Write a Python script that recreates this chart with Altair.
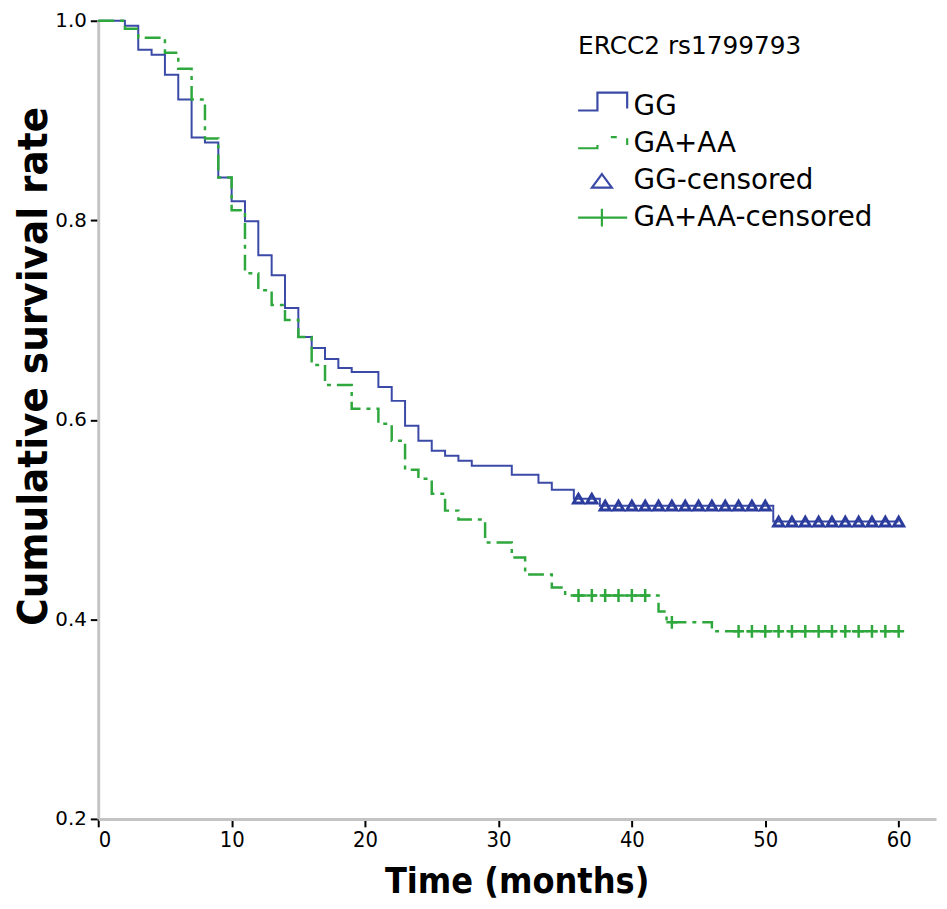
import altair as alt
import pandas as pd

BLUE = "#3a4aa6"
BLUE_MARK = "#2b3c9c"
GREEN = "#2ea83c"

NARROW = "Liberation Sans Narrow, DejaVu Sans Condensed, Arial Narrow, sans-serif"

# GG Kaplan-Meier steps (time in months, cumulative survival)
gg_time = [0, 2, 3, 4, 5, 6, 7, 8, 9, 10, 11, 12, 13, 14, 15, 16, 17, 18, 19, 21,
           22, 23, 24, 25, 26, 27, 28, 31, 33, 34, 35.65, 37.6, 50.6, 60]
gg_surv = [1.0, 0.995, 0.971, 0.966, 0.946, 0.921, 0.883, 0.878, 0.843, 0.819, 0.799,
           0.765, 0.745, 0.712, 0.683, 0.672, 0.661, 0.652, 0.648, 0.633, 0.619, 0.594,
           0.579, 0.569, 0.564, 0.559, 0.554, 0.545, 0.537, 0.530, 0.521, 0.514, 0.498, 0.498]

# GA+AA Kaplan-Meier steps
ga_time = [0, 2, 3, 5, 6, 7, 8, 9, 10, 11, 12, 13, 14, 15, 16, 17, 19, 21, 22, 23, 24,
           25, 26, 27, 29, 31, 32, 34, 35, 42, 42.6, 46, 60]
ga_surv = [1.0, 0.992, 0.983, 0.968, 0.952, 0.921, 0.882, 0.843, 0.810, 0.747, 0.730,
           0.715, 0.700, 0.683, 0.655, 0.635, 0.611, 0.596, 0.579, 0.550, 0.541, 0.526,
           0.509, 0.500, 0.477, 0.462, 0.445, 0.432, 0.424, 0.408, 0.397, 0.388, 0.388]

# censored observations
gg_cens_time = [36, 37, 38, 39, 40, 41, 42, 43, 44, 45, 46, 47, 48, 49, 50,
                51, 52, 53, 54, 55, 56, 57, 58, 59, 60]
gg_cens_surv = [0.521, 0.521, 0.514, 0.514, 0.514, 0.514, 0.514, 0.514, 0.514, 0.514,
                0.514, 0.514, 0.514, 0.514, 0.514, 0.498, 0.498, 0.498, 0.498, 0.498,
                0.498, 0.498, 0.498, 0.498, 0.498]
ga_cens_time = [36, 37, 38, 39, 40, 41, 43, 48, 49, 50, 51, 52, 53, 54, 55, 56, 57, 58, 59, 60]
ga_cens_surv = [0.424, 0.424, 0.424, 0.424, 0.424, 0.424, 0.397, 0.388, 0.388, 0.388,
                0.388, 0.388, 0.388, 0.388, 0.388, 0.388, 0.388, 0.388, 0.388, 0.388]

legend_keys = ["GG", "GA+AA", "GG-censored", "GA+AA-censored"]
legend_colors = [BLUE, GREEN, BLUE, GREEN]
legend_paths = [
    "M-1.1,0.2H0.2V-1H2.2V0.07",
    "M-1.1,0.27H0.2V0.05M1.1,-0.47H1.5M2.2,-0.4V0.05",
    "M0.5,-0.45L1.17,0.45L-0.17,0.45Z",
    "M-1.1,0H2.2M0.5,-0.6V0.6",
]
x_ticks = [0, 10, 20, 30, 40, 50, 60]
y_ticks = [0.2, 0.4, 0.6, 0.8, 1.0]

gg = pd.DataFrame({"t": gg_time, "s": gg_surv})
ga = pd.DataFrame({"t": ga_time, "s": ga_surv})
ggc = pd.DataFrame({"t": gg_cens_time, "s": gg_cens_surv})
gac = pd.DataFrame({"t": ga_cens_time, "s": ga_cens_surv})
leg = pd.DataFrame({"key": legend_keys})

x_scale = alt.Scale(domain=[0, 62.8], nice=False, zero=False)
y_scale = alt.Scale(domain=[0.2, 1.001], nice=False, zero=False)

x_axis = alt.Axis(values=x_ticks, format="d", title="Time (months)",
                  titleFont=NARROW, titleFontSize=36, titleFontWeight="bold",
                  titleBaseline="middle", titleY=63, titleX=422,
                  labelFont=NARROW, labelFontSize=22, labelPadding=3)
y_axis = alt.Axis(values=y_ticks, format=".1f", title="Cumulative survival rate",
                  titleFont=NARROW, titleFontSize=42, titleFontWeight="bold",
                  titleBaseline="middle", titleX=-65, titleY=349,
                  labelFont="DejaVu Sans", labelFontSize=20, labelPadding=4)

X = alt.X("t:Q", scale=x_scale, axis=x_axis)
Y = alt.Y("s:Q", scale=y_scale, axis=y_axis)

line_gg = alt.Chart(gg).mark_line(interpolate="step-after", color=BLUE, strokeWidth=2).encode(x=X, y=Y)
line_ga = alt.Chart(ga).mark_line(interpolate="step-after", color=GREEN, strokeWidth=2.5,
                                  strokeDash=[16, 6, 4, 6]).encode(x=X, y=Y)
pts_gg = alt.Chart(ggc).mark_point(shape="triangle-up", filled=False, color=BLUE_MARK,
                                   strokeWidth=3, size=100, opacity=1).encode(x=X, y=Y)
pts_ga = alt.Chart(gac).mark_point(shape="M-0.85,0H0.85M0,-1V1", filled=False, color=GREEN,
                                   strokeWidth=2.5, size=170, opacity=1).encode(x=X, y=Y)

lg = alt.Legend(title="ERCC2 rs1799793", orient="none", legendX=484, legendY=15,
                symbolSize=900, symbolStrokeWidth=2.2, symbolOpacity=1,
                labelFont="DejaVu Sans", labelFontSize=28, labelColor="black", labelLimit=400,
                labelOffset=23, titleFont="DejaVu Sans", titleFontSize=25, titleLimit=400,
                titleFontWeight="normal", titleColor="black", titlePadding=32,
                rowPadding=6, padding=0)
legend_layer = alt.Chart(leg).mark_point(filled=False, opacity=0).encode(
    x=alt.datum(0), y=alt.datum(1.0),
    color=alt.Color("key:N", scale=alt.Scale(domain=legend_keys, range=legend_colors), legend=lg),
    shape=alt.Shape("key:N", scale=alt.Scale(domain=legend_keys, range=legend_paths), legend=lg),
)

chart = alt.layer(line_gg, line_ga, pts_gg, pts_ga, legend_layer).properties(
    width=845, height=806,
    autosize=alt.AutoSizeParams(type="none"),
    padding={"left": 91, "top": 8, "right": 3, "bottom": 87},
).configure_view(stroke=None).configure_axis(
    grid=False, domainColor="#c4c4c4", domainWidth=3, tickColor="black", tickWidth=2,
    tickSize=8, labelColor="black", titleColor="black"
)

chart.save("out.html", embed_options={"renderer": "svg", "actions": False})
